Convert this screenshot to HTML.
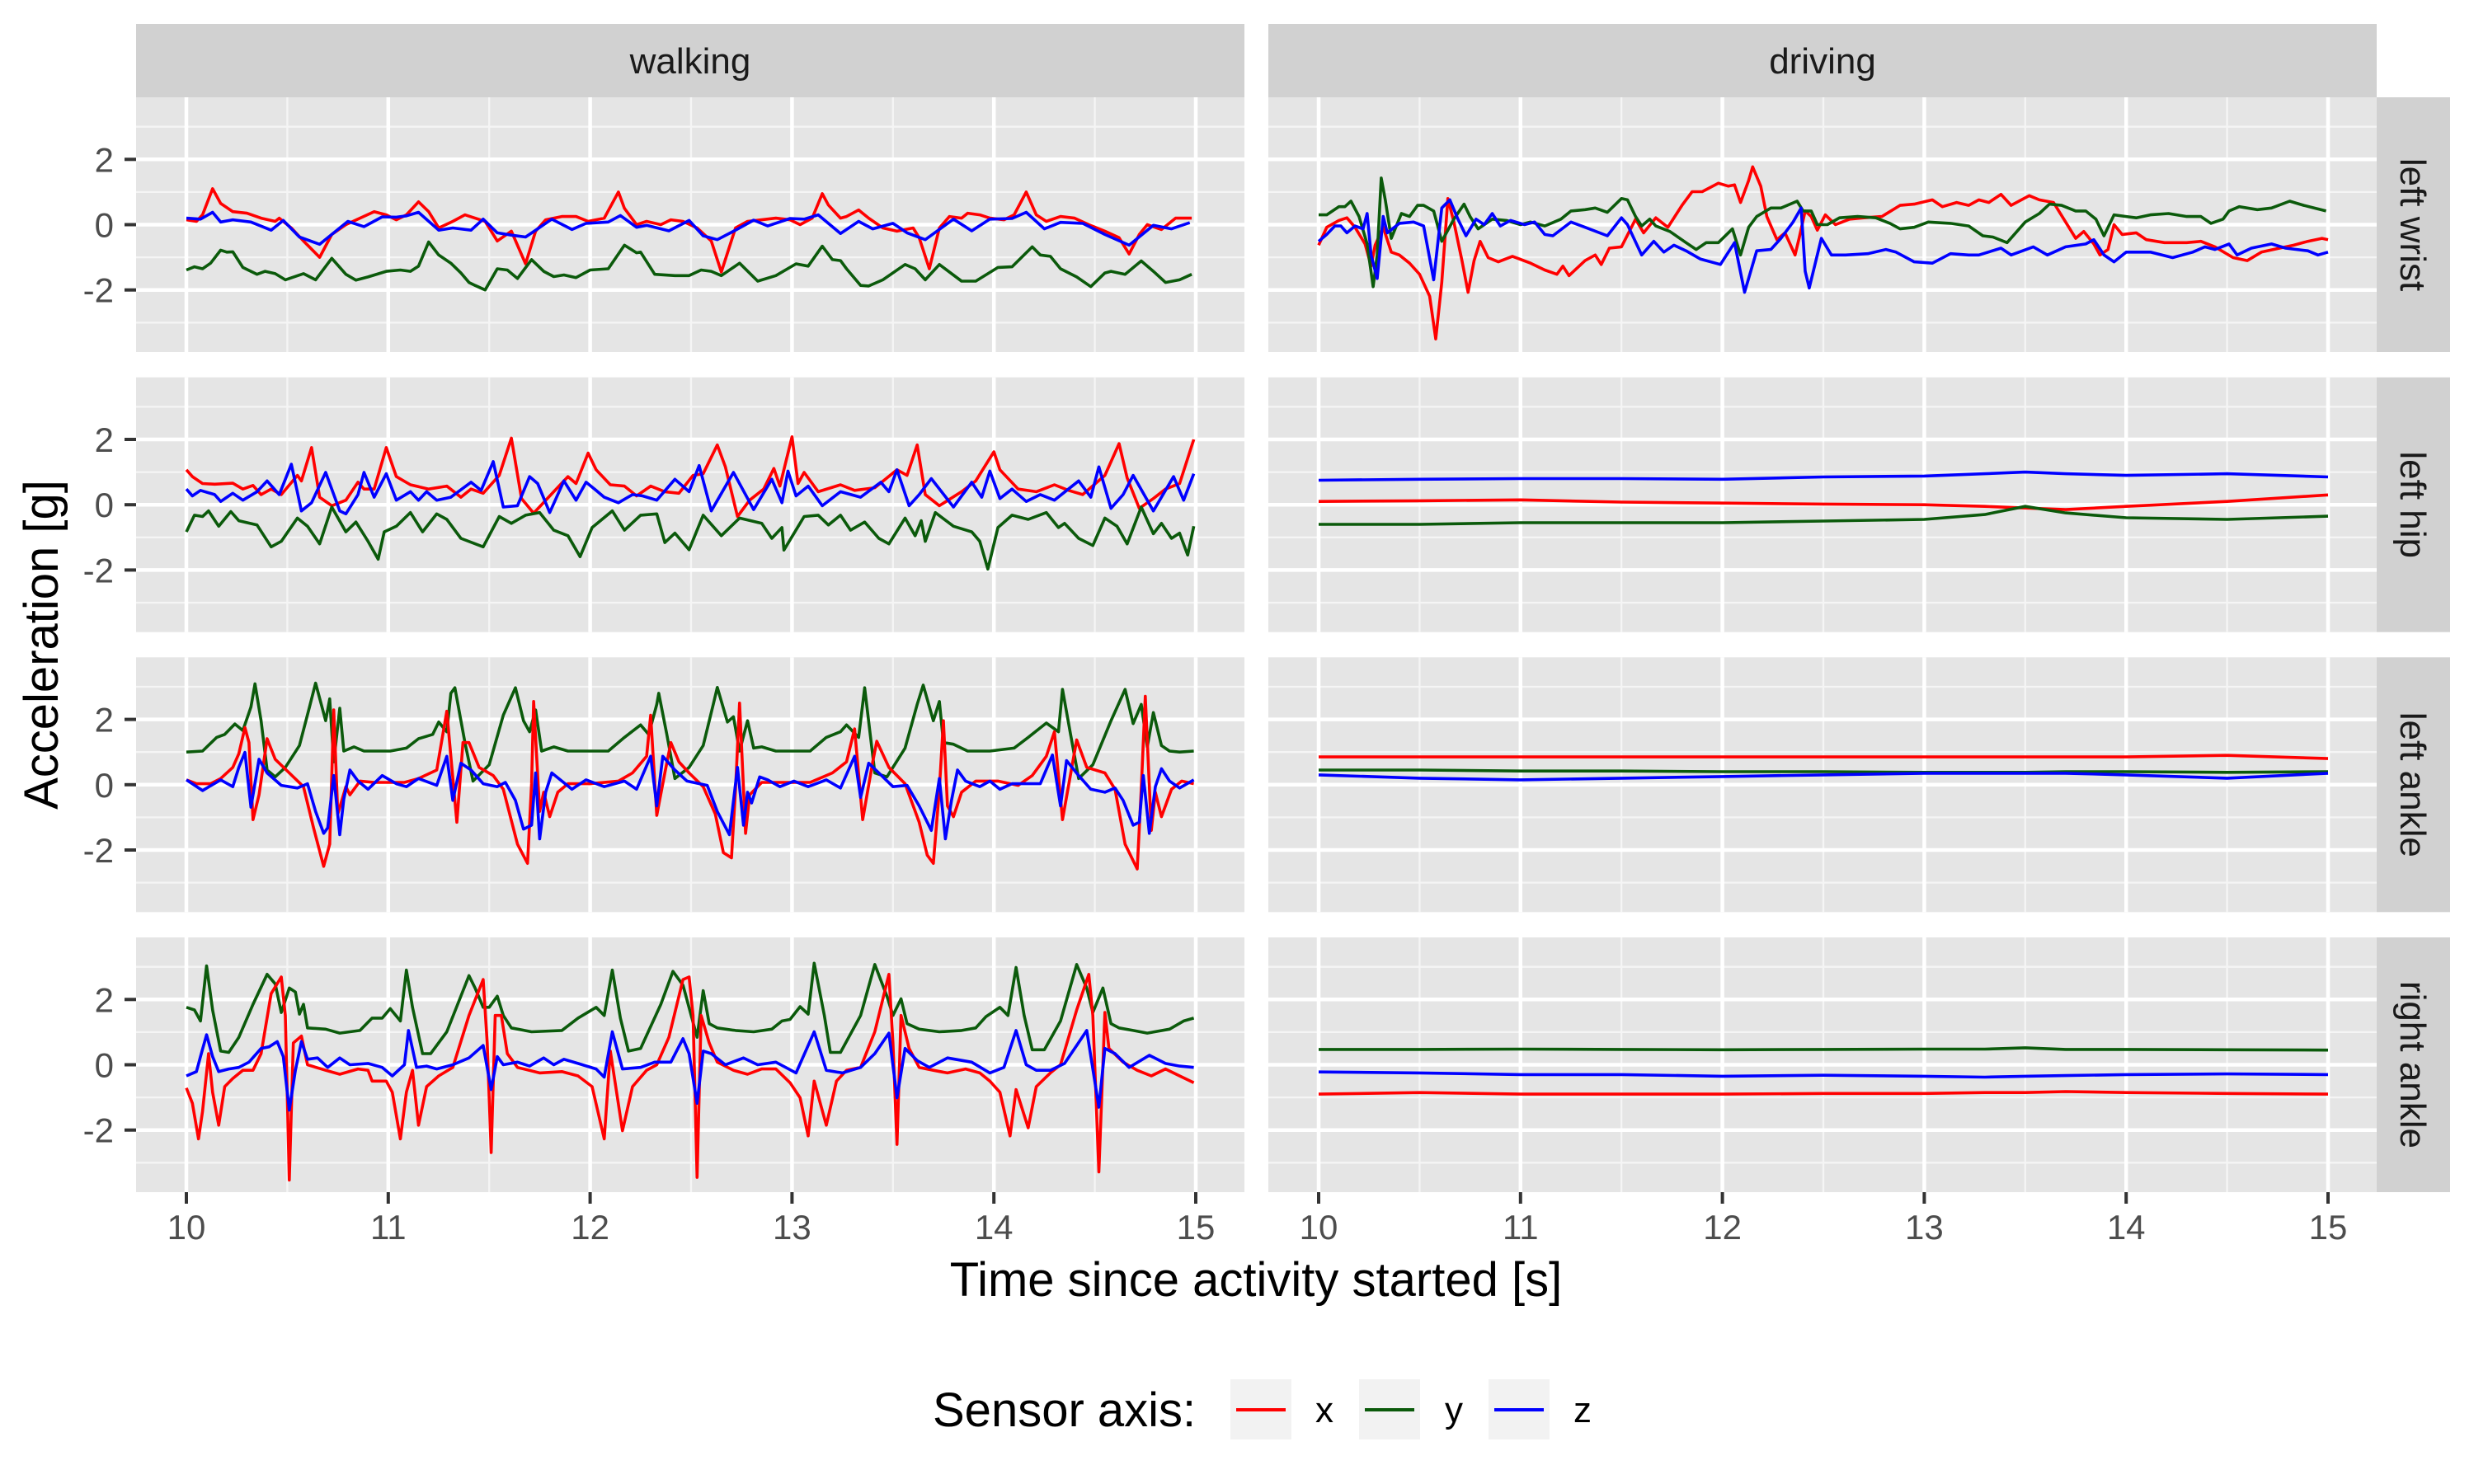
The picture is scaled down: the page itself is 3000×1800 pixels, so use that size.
<!DOCTYPE html>
<html><head><meta charset="utf-8"><style>
html,body{margin:0;padding:0;background:#fff;}
svg{display:block;font-family:"Liberation Sans",Arial,sans-serif;}
</style></head><body>
<svg id="chart" width="3000" height="1800" viewBox="0 0 3000 1800" xmlns="http://www.w3.org/2000/svg">
<g id="panels"></g>
<g id="lines"></g>
<g id="axes"></g>
<text x="1523" y="1572" font-size="58" text-anchor="middle" fill="#000">Time since activity started [s]</text>
<text x="0" y="0" font-size="58" text-anchor="middle" fill="#000" transform="translate(70,782) rotate(-90)">Acceleration [g]</text>
<g>
<text x="1131" y="1730" font-size="58" fill="#000">Sensor axis:</text>
<rect x="1492" y="1673" width="74" height="73" fill="#f2f2f2"/>
<line x1="1499" y1="1710" x2="1559" y2="1710" stroke="#ff0000" stroke-width="4"/>
<text x="1595" y="1725" font-size="44" fill="#000">x</text>
<rect x="1648" y="1673" width="74" height="73" fill="#f2f2f2"/>
<line x1="1655" y1="1710" x2="1715" y2="1710" stroke="#0b5a0b" stroke-width="4"/>
<text x="1752" y="1725" font-size="44" fill="#000">y</text>
<rect x="1805" y="1673" width="74" height="73" fill="#f2f2f2"/>
<line x1="1812" y1="1710" x2="1872" y2="1710" stroke="#0000ff" stroke-width="4"/>
<text x="1908" y="1725" font-size="44" fill="#000">z</text>
</g>
</svg>
<script>
// ---- data ----
const xTicks = [10, 11, 12, 13, 14, 15];
const yTicks = [-2, 0, 2];
const activities = ["walking", "driving"];
const positions = ["left wrist", "left hip", "left ankle", "right ankle"];

// walking, left wrist
const wwXT = [10.00,10.05,10.08,10.13,10.17,10.23,10.30,10.37,10.44,10.46,10.52,10.58,10.66,10.72,10.79,10.86,10.93,10.99,11.04,11.09,11.15,11.20,11.25,11.32,11.38,11.43,11.48,11.54,11.61,11.68,11.73,11.78,11.86,11.93,11.99,12.07,12.14,12.17,12.23,12.28,12.35,12.40,12.46,12.53,12.60,12.65,12.72,12.78,12.85,12.92,12.99,13.04,13.10,13.15,13.18,13.24,13.27,13.33,13.38,13.45,13.52,13.60,13.63,13.68,13.73,13.78,13.84,13.87,13.93,13.98,14.05,14.10,14.16,14.21,14.26,14.33,14.40,14.47,14.55,14.62,14.67,14.72,14.76,14.83,14.90,14.98];
const wwXV = [0.15,0.1,0.3,1.1,0.65,0.4,0.35,0.2,0.1,0.2,-0.1,-0.5,-1.0,-0.3,0.0,0.2,0.4,0.3,0.15,0.3,0.7,0.4,-0.1,0.1,0.3,0.2,0.1,-0.5,-0.2,-1.2,-0.2,0.15,0.25,0.25,0.1,0.2,1.0,0.5,0.0,0.1,0.0,0.15,0.1,-0.1,-0.5,-1.45,-0.1,0.1,0.15,0.2,0.15,0.0,0.2,0.95,0.6,0.2,0.25,0.45,0.2,-0.1,-0.2,-0.1,-0.4,-1.35,-0.1,0.25,0.2,0.35,0.3,0.2,0.15,0.3,1.0,0.3,0.1,0.25,0.2,0.0,-0.2,-0.4,-0.9,-0.3,0.0,-0.15,0.2,0.2];
const wwZT = [10.00,10.07,10.13,10.17,10.23,10.32,10.42,10.48,10.56,10.66,10.74,10.80,10.88,10.97,11.04,11.09,11.15,11.25,11.32,11.41,11.47,11.54,11.61,11.68,11.73,11.81,11.91,11.98,12.09,12.15,12.23,12.28,12.39,12.49,12.56,12.63,12.72,12.81,12.88,12.99,13.06,13.13,13.24,13.33,13.40,13.50,13.57,13.66,13.80,13.89,13.98,14.09,14.16,14.25,14.33,14.44,14.55,14.67,14.79,14.88,14.97];
const wwZV = [0.2,0.17,0.38,0.08,0.15,0.08,-0.17,0.13,-0.38,-0.6,-0.2,0.1,-0.06,0.24,0.23,0.27,0.38,-0.17,-0.1,-0.17,0.17,-0.25,-0.32,-0.38,-0.17,0.17,-0.15,0.04,0.08,0.28,-0.08,-0.02,-0.19,0.13,-0.34,-0.46,-0.17,0.14,-0.04,0.19,0.17,0.3,-0.27,0.1,-0.13,0.04,-0.25,-0.46,0.17,-0.19,0.17,0.19,0.38,-0.13,0.07,0.04,-0.3,-0.63,-0.02,-0.13,0.06];
const wwYT = [10.00,10.04,10.08,10.12,10.17,10.20,10.23,10.28,10.35,10.39,10.44,10.49,10.58,10.64,10.72,10.79,10.84,10.90,10.99,11.06,11.11,11.15,11.20,11.25,11.31,11.36,11.40,11.43,11.48,11.54,11.59,11.64,11.71,11.77,11.82,11.87,11.93,12.00,12.09,12.17,12.23,12.25,12.32,12.42,12.49,12.55,12.60,12.65,12.74,12.83,12.92,13.02,13.08,13.15,13.20,13.24,13.27,13.34,13.38,13.45,13.56,13.61,13.66,13.73,13.84,13.91,14.02,14.09,14.19,14.23,14.28,14.33,14.41,14.48,14.55,14.58,14.65,14.73,14.79,14.85,14.92,14.98];
const wwYV = [-1.39,-1.29,-1.35,-1.18,-0.78,-0.84,-0.83,-1.31,-1.52,-1.43,-1.5,-1.69,-1.5,-1.69,-1.03,-1.52,-1.7,-1.6,-1.43,-1.39,-1.43,-1.27,-0.53,-0.93,-1.18,-1.48,-1.77,-1.86,-2.0,-1.35,-1.39,-1.65,-1.07,-1.43,-1.59,-1.54,-1.62,-1.39,-1.35,-0.63,-0.86,-0.84,-1.52,-1.56,-1.56,-1.39,-1.43,-1.56,-1.18,-1.73,-1.56,-1.2,-1.27,-0.66,-1.07,-1.1,-1.35,-1.86,-1.88,-1.69,-1.22,-1.35,-1.69,-1.22,-1.73,-1.73,-1.31,-1.29,-0.68,-0.93,-0.97,-1.35,-1.6,-1.9,-1.48,-1.43,-1.52,-1.11,-1.43,-1.77,-1.69,-1.52];

// walking, left hip
const whXT = [10.00,10.03,10.08,10.14,10.23,10.28,10.33,10.37,10.42,10.47,10.55,10.57,10.62,10.66,10.72,10.79,10.85,10.88,10.93,10.99,11.04,11.11,11.20,11.29,11.36,11.41,11.47,11.55,11.61,11.66,11.72,11.82,11.89,11.93,11.99,12.03,12.10,12.17,12.23,12.30,12.37,12.44,12.51,12.56,12.63,12.67,12.73,12.79,12.86,12.91,12.94,13.00,13.03,13.06,13.13,13.24,13.31,13.41,13.52,13.57,13.62,13.66,13.73,13.84,13.91,14.00,14.03,14.12,14.21,14.30,14.37,14.44,14.55,14.62,14.66,14.72,14.79,14.85,14.92,14.99];
const whXV = [1.07,0.86,0.65,0.63,0.66,0.48,0.59,0.31,0.48,0.31,0.9,0.73,1.75,0.23,-0.03,0.14,0.69,0.48,0.48,1.75,0.86,0.61,0.48,0.57,0.23,0.48,0.35,0.9,2.04,0.19,-0.26,0.4,0.86,0.65,1.58,1.07,0.61,0.57,0.27,0.57,0.4,0.35,0.9,0.95,1.83,1.16,-0.36,0.14,0.48,1.11,0.57,2.08,0.65,0.99,0.4,0.61,0.44,0.52,1.07,0.9,1.83,0.31,-0.03,0.4,0.73,1.62,1.07,0.48,0.4,0.61,0.44,0.31,0.9,1.87,0.82,-0.11,0.19,0.48,0.65,2.0];
const whZT = [10.00,10.03,10.07,10.14,10.17,10.23,10.28,10.35,10.40,10.46,10.52,10.57,10.62,10.69,10.76,10.79,10.85,10.88,10.93,10.99,11.04,11.11,11.15,11.19,11.24,11.31,11.41,11.46,11.52,11.57,11.64,11.70,11.74,11.80,11.87,11.93,11.98,12.03,12.07,12.14,12.21,12.26,12.33,12.42,12.49,12.54,12.60,12.71,12.81,12.90,12.95,12.98,13.02,13.08,13.15,13.24,13.34,13.44,13.48,13.52,13.58,13.63,13.69,13.80,13.89,13.94,13.98,14.03,14.09,14.16,14.23,14.30,14.42,14.48,14.52,14.58,14.64,14.69,14.79,14.89,14.94,14.99];
const whZV = [0.48,0.27,0.44,0.31,0.1,0.35,0.14,0.4,0.73,0.31,1.24,-0.19,0.06,0.99,-0.19,-0.28,0.31,0.99,0.23,0.95,0.14,0.4,0.14,0.4,0.14,0.23,0.69,0.44,1.32,-0.07,-0.03,0.86,0.65,-0.24,0.73,0.14,0.69,0.44,0.23,0.06,0.31,0.27,0.14,0.78,0.4,1.2,-0.19,0.99,-0.15,0.78,0.06,1.03,0.27,0.57,-0.03,0.4,0.23,0.69,0.4,1.07,-0.03,0.31,0.8,-0.07,0.69,0.23,1.03,0.19,0.48,0.1,0.31,0.14,0.73,0.23,1.16,-0.11,0.31,0.9,-0.19,0.86,0.14,0.95];
const whYT = [10.00,10.04,10.08,10.11,10.16,10.22,10.26,10.35,10.42,10.47,10.55,10.60,10.66,10.72,10.79,10.84,10.90,10.95,10.98,11.04,11.11,11.17,11.24,11.29,11.36,11.47,11.55,11.61,11.68,11.75,11.82,11.89,11.95,12.01,12.11,12.17,12.25,12.33,12.37,12.42,12.49,12.56,12.65,12.74,12.85,12.90,12.95,12.96,13.06,13.13,13.18,13.24,13.29,13.36,13.43,13.48,13.56,13.61,13.64,13.66,13.71,13.80,13.89,13.93,13.97,14.02,14.09,14.17,14.26,14.32,14.35,14.42,14.49,14.55,14.61,14.66,14.73,14.79,14.83,14.88,14.92,14.96,14.99];
const whYV = [-0.83,-0.32,-0.36,-0.19,-0.66,-0.21,-0.49,-0.62,-1.29,-1.12,-0.41,-0.66,-1.2,-0.07,-0.83,-0.53,-1.12,-1.67,-0.83,-0.66,-0.24,-0.83,-0.28,-0.45,-1.03,-1.29,-0.36,-0.57,-0.32,-0.24,-0.78,-0.95,-1.59,-0.7,-0.19,-0.78,-0.32,-0.28,-1.16,-0.87,-1.38,-0.32,-0.95,-0.41,-0.57,-1.03,-0.7,-1.39,-0.36,-0.32,-0.62,-0.32,-0.78,-0.53,-1.03,-1.2,-0.41,-0.95,-0.49,-1.12,-0.24,-0.66,-0.83,-1.12,-1.97,-0.7,-0.32,-0.45,-0.24,-0.7,-0.57,-1.03,-1.25,-0.41,-0.66,-1.2,-0.07,-0.89,-0.57,-1.03,-0.87,-1.54,-0.66];

// walking, left ankle
const waXT = [10.00,10.05,10.12,10.17,10.23,10.26,10.29,10.31,10.33,10.36,10.40,10.44,10.51,10.58,10.63,10.68,10.71,10.73,10.75,10.79,10.81,10.86,10.93,11.08,11.15,11.24,11.29,11.31,11.34,11.37,11.40,11.45,11.52,11.57,11.64,11.69,11.71,11.72,11.75,11.77,11.80,11.84,11.89,12.00,12.14,12.21,12.28,12.30,12.33,12.37,12.40,12.44,12.49,12.56,12.62,12.66,12.70,12.72,12.74,12.77,12.79,12.85,12.92,13.09,13.20,13.27,13.31,13.35,13.40,13.42,13.48,13.56,13.63,13.67,13.70,13.73,13.75,13.77,13.80,13.84,13.91,14.02,14.12,14.19,14.26,14.30,14.34,14.41,14.46,14.55,14.60,14.65,14.71,14.73,14.75,14.78,14.80,14.83,14.88,14.93,14.99];
const waXV = [0.15,0.03,0.03,0.19,0.53,0.95,1.75,1.29,-1.07,-0.31,1.41,0.78,0.36,-0.06,-1.32,-2.5,-1.82,2.29,-0.9,-0.06,-0.31,0.11,0.07,0.07,0.19,0.45,2.25,0.87,-1.15,1.29,1.29,0.53,0.28,-0.14,-1.82,-2.41,0.03,2.55,-0.82,-0.23,-0.98,-0.23,0.03,0.03,0.11,0.36,0.87,2.13,-0.94,0.36,1.29,0.7,0.36,-0.06,-0.9,-2.08,-2.24,-0.14,2.5,-1.49,-0.31,0.07,0.07,0.07,0.36,0.7,1.71,-1.07,0.7,1.33,0.53,0.03,-1.15,-2.16,-2.41,-0.14,1.96,-0.65,-0.98,-0.23,0.11,0.11,-0.02,0.28,0.87,1.62,-1.07,1.37,0.53,0.36,-0.14,-1.82,-2.58,-0.14,2.71,-1.4,-0.23,-0.98,-0.14,0.11,0.03];
const waZT = [10.00,10.08,10.17,10.23,10.26,10.29,10.32,10.36,10.40,10.47,10.55,10.60,10.64,10.68,10.70,10.73,10.76,10.78,10.81,10.85,10.90,10.97,11.04,11.09,11.15,11.24,11.29,11.32,11.36,11.41,11.47,11.54,11.58,11.63,11.67,11.71,11.73,11.75,11.78,11.81,11.86,11.91,11.98,12.07,12.17,12.23,12.30,12.33,12.36,12.42,12.48,12.58,12.63,12.69,12.73,12.76,12.78,12.80,12.84,12.88,12.94,13.01,13.08,13.17,13.24,13.31,13.34,13.38,13.43,13.50,13.57,13.63,13.69,13.73,13.76,13.79,13.82,13.86,13.93,13.98,14.03,14.09,14.16,14.23,14.29,14.33,14.36,14.42,14.48,14.55,14.60,14.64,14.69,14.72,14.74,14.77,14.80,14.83,14.87,14.92,14.99];
const waZV = [0.15,-0.18,0.15,-0.06,0.53,0.99,-0.69,0.78,0.36,-0.02,-0.1,0.03,-0.82,-1.49,-1.32,0.28,-1.53,-0.44,0.45,0.11,-0.14,0.28,0.03,-0.06,0.19,-0.02,0.87,-0.48,0.66,0.45,0.03,-0.06,0.07,-0.48,-1.36,-1.24,0.36,-1.66,-0.23,0.36,0.11,-0.14,0.15,-0.06,0.11,-0.14,0.87,-0.65,0.87,0.45,0.11,-0.02,-0.82,-1.53,0.53,-1.24,-0.23,-0.56,0.24,0.15,-0.06,0.11,-0.06,0.15,-0.1,0.87,-0.39,0.66,0.36,-0.06,-0.02,-0.65,-1.4,0.19,-1.66,-0.48,0.45,0.11,-0.06,0.11,-0.14,0.03,0.03,0.03,0.91,-0.65,0.74,0.28,-0.14,-0.23,-0.1,-0.48,-1.24,-1.15,0.28,-1.49,-0.06,0.49,0.11,-0.1,0.15];
const waYT = [10.00,10.08,10.15,10.19,10.24,10.28,10.32,10.34,10.37,10.40,10.44,10.49,10.56,10.61,10.64,10.69,10.71,10.73,10.76,10.78,10.83,10.88,11.01,11.09,11.15,11.22,11.25,11.29,11.31,11.33,11.38,11.42,11.50,11.57,11.63,11.67,11.70,11.73,11.76,11.82,11.89,12.09,12.17,12.25,12.29,12.33,12.34,12.38,12.42,12.49,12.56,12.61,12.63,12.68,12.71,12.74,12.78,12.81,12.85,12.92,13.09,13.17,13.24,13.27,13.33,13.36,13.41,13.47,13.56,13.62,13.65,13.70,13.73,13.75,13.80,13.87,13.98,14.10,14.17,14.26,14.32,14.34,14.38,14.42,14.49,14.58,14.65,14.69,14.73,14.76,14.79,14.83,14.87,14.92,14.99];
const waYV = [1.0,1.03,1.45,1.54,1.86,1.66,2.38,3.09,1.96,0.45,0.24,0.53,1.2,2.38,3.11,1.96,2.63,0.7,2.34,1.03,1.16,1.03,1.03,1.12,1.41,1.54,1.92,1.62,2.8,2.97,1.29,0.11,0.61,2.13,2.97,1.96,1.62,2.29,1.03,1.16,1.03,1.03,1.45,1.83,1.54,2.46,2.8,1.54,0.19,0.53,1.2,2.46,2.98,1.92,2.08,1.03,1.96,1.12,1.16,1.03,1.03,1.45,1.62,1.83,1.45,2.97,0.36,0.24,1.12,2.46,3.05,1.96,2.55,1.29,1.24,1.03,1.03,1.12,1.45,1.89,1.62,2.92,1.54,0.19,0.61,1.96,2.92,1.87,2.46,1.16,2.21,1.2,1.03,1.0,1.03];

// walking, right ankle
const wrXT = [10.00,10.03,10.06,10.08,10.11,10.13,10.16,10.19,10.23,10.28,10.33,10.37,10.42,10.47,10.49,10.51,10.53,10.57,10.60,10.69,10.76,10.85,10.90,10.92,10.99,11.02,11.06,11.09,11.12,11.15,11.19,11.25,11.32,11.40,11.47,11.49,11.51,11.53,11.56,11.59,11.64,11.75,11.86,11.94,12.01,12.07,12.10,12.16,12.21,12.28,12.33,12.39,12.46,12.49,12.51,12.53,12.55,12.59,12.63,12.71,12.78,12.85,12.92,12.99,13.04,13.08,13.11,13.17,13.22,13.27,13.34,13.41,13.48,13.50,13.52,13.54,13.58,13.63,13.70,13.77,13.86,13.93,13.98,14.03,14.08,14.11,14.17,14.21,14.28,14.33,14.41,14.47,14.49,14.52,14.55,14.57,14.64,14.71,14.78,14.85,14.92,14.99];
const wrXV = [-0.71,-1.18,-2.27,-1.43,0.34,-0.84,-1.85,-0.67,-0.42,-0.17,-0.17,0.34,2.18,2.69,1.51,-3.53,0.67,0.88,0.0,-0.17,-0.29,-0.13,-0.17,-0.5,-0.5,-0.84,-2.27,-0.84,-0.17,-1.85,-0.67,-0.34,-0.08,1.51,2.61,0.67,-2.69,1.51,1.51,0.34,-0.08,-0.25,-0.21,-0.34,-0.67,-2.27,0.42,-2.02,-0.67,-0.17,0.0,0.84,2.61,2.69,1.51,-3.45,1.51,0.67,0.08,-0.17,-0.29,-0.13,-0.13,-0.55,-1.01,-2.18,-0.5,-1.85,-0.5,-0.17,-0.08,1.01,2.77,0.67,-2.44,1.51,0.5,-0.08,-0.17,-0.25,-0.13,-0.25,-0.5,-0.84,-2.18,-0.76,-1.93,-0.67,-0.25,0.0,1.68,2.77,1.51,-3.28,1.6,0.5,0.08,-0.17,-0.34,-0.13,-0.34,-0.55];
const wrZT = [10.00,10.05,10.07,10.10,10.13,10.16,10.21,10.26,10.31,10.37,10.41,10.45,10.48,10.51,10.54,10.57,10.60,10.65,10.70,10.76,10.81,10.90,10.97,11.02,11.08,11.10,11.14,11.19,11.24,11.32,11.40,11.47,11.51,11.54,11.57,11.64,11.70,11.77,11.82,11.87,11.94,12.03,12.07,12.11,12.16,12.25,12.32,12.40,12.46,12.49,12.53,12.56,12.60,12.67,12.76,12.83,12.92,13.02,13.11,13.17,13.25,13.34,13.41,13.48,13.52,13.56,13.62,13.68,13.77,13.89,13.98,14.05,14.11,14.16,14.21,14.28,14.35,14.41,14.46,14.52,14.55,14.60,14.67,14.77,14.85,14.92,14.99];
const wrZV = [-0.34,-0.21,0.25,0.92,0.25,-0.21,-0.13,-0.08,0.08,0.5,0.55,0.71,0.25,-1.39,-0.17,0.71,0.17,0.21,-0.08,0.21,0.0,0.04,-0.08,-0.34,0.0,1.05,-0.08,-0.04,-0.13,0.0,0.21,0.59,-0.76,0.25,0.0,0.08,-0.04,0.21,0.0,0.17,0.04,-0.13,-0.38,1.01,-0.13,-0.08,0.08,0.08,0.8,0.34,-1.18,0.42,0.34,0.0,0.21,0.0,0.08,-0.25,1.01,-0.17,-0.25,-0.08,0.34,0.97,-1.01,0.5,0.13,-0.08,0.21,0.08,-0.25,-0.08,1.05,0.0,-0.17,-0.17,0.04,0.59,1.05,-1.3,0.5,0.34,-0.08,0.29,0.04,-0.04,-0.08];
const wrYT = [10.00,10.04,10.07,10.10,10.13,10.17,10.21,10.26,10.33,10.40,10.44,10.47,10.51,10.54,10.56,10.58,10.60,10.69,10.76,10.86,10.92,10.97,11.01,11.06,11.09,11.12,11.17,11.21,11.29,11.40,11.43,11.47,11.50,11.54,11.57,11.61,11.71,11.86,11.94,12.03,12.07,12.11,12.15,12.19,12.25,12.35,12.41,12.46,12.53,12.56,12.59,12.63,12.72,12.81,12.90,12.95,12.99,13.04,13.08,13.11,13.16,13.19,13.24,13.34,13.41,13.47,13.50,13.54,13.57,13.63,13.73,13.84,13.91,13.96,14.03,14.07,14.11,14.15,14.19,14.25,14.33,14.41,14.46,14.49,14.54,14.58,14.62,14.69,14.76,14.87,14.94,14.99];
const wrYV = [1.76,1.68,1.34,3.03,1.68,0.42,0.38,0.84,1.85,2.77,2.48,1.6,2.35,2.23,1.55,1.85,1.13,1.09,0.97,1.05,1.43,1.43,1.72,1.34,2.9,1.76,0.34,0.34,1.01,2.73,2.35,1.76,1.76,2.1,1.51,1.13,1.01,1.05,1.43,1.76,1.51,2.9,1.43,0.42,0.5,1.85,2.86,2.44,0.84,2.27,1.26,1.13,1.05,1.01,1.09,1.34,1.39,1.78,1.55,3.11,1.51,0.38,0.38,1.51,3.07,2.1,1.51,2.02,1.26,1.09,1.01,1.05,1.13,1.47,1.76,1.51,2.98,1.51,0.46,0.46,1.34,3.07,2.35,1.6,2.35,1.26,1.13,1.05,0.97,1.09,1.34,1.43];

// driving, left wrist
const dwXT = [10.00,10.04,10.10,10.14,10.18,10.23,10.26,10.28,10.32,10.36,10.40,10.45,10.50,10.55,10.58,10.61,10.64,10.67,10.71,10.74,10.77,10.80,10.84,10.89,10.96,11.05,11.12,11.18,11.21,11.24,11.32,11.37,11.40,11.44,11.50,11.57,11.61,11.67,11.73,11.80,11.85,11.90,11.98,12.03,12.06,12.09,12.13,12.15,12.19,12.22,12.27,12.31,12.36,12.38,12.41,12.44,12.47,12.51,12.56,12.63,12.70,12.79,12.88,12.95,13.04,13.09,13.16,13.22,13.27,13.32,13.38,13.43,13.52,13.57,13.64,13.70,13.75,13.79,13.84,13.87,13.91,13.94,13.98,14.05,14.10,14.19,14.30,14.37,14.44,14.53,14.60,14.67,14.76,14.83,14.90,14.97,15.00];
const dwXV = [-0.63,-0.08,0.13,0.21,-0.08,-0.59,-1.27,-0.63,-0.08,-0.84,-0.93,-1.18,-1.52,-2.19,-3.5,-1.77,0.8,0.08,-1.1,-2.07,-1.1,-0.51,-1.01,-1.14,-0.97,-1.18,-1.39,-1.52,-1.27,-1.56,-1.1,-0.93,-1.22,-0.72,-0.68,0.17,-0.25,0.21,-0.08,0.59,1.01,1.01,1.27,1.18,1.22,0.68,1.35,1.77,1.18,0.25,-0.46,-0.25,-0.93,-0.42,0.42,0.25,-0.17,0.3,0.0,0.17,0.21,0.25,0.59,0.63,0.76,0.55,0.68,0.59,0.76,0.68,0.93,0.59,0.89,0.76,0.68,0.08,-0.42,-0.21,-0.59,-0.93,-0.76,0.0,-0.3,-0.25,-0.46,-0.55,-0.55,-0.51,-0.68,-1.01,-1.1,-0.84,-0.72,-0.63,-0.51,-0.42,-0.46];
const dwZT = [10.00,10.04,10.08,10.11,10.14,10.18,10.22,10.24,10.26,10.29,10.32,10.34,10.40,10.47,10.52,10.57,10.61,10.65,10.69,10.73,10.78,10.82,10.86,10.90,10.95,11.02,11.07,11.12,11.16,11.25,11.32,11.43,11.50,11.53,11.60,11.66,11.71,11.76,11.82,11.89,11.99,12.06,12.11,12.17,12.24,12.29,12.35,12.39,12.41,12.43,12.49,12.54,12.61,12.72,12.81,12.86,12.95,13.04,13.13,13.22,13.27,13.38,13.43,13.54,13.61,13.70,13.80,13.84,13.89,13.94,14.00,14.12,14.23,14.33,14.39,14.44,14.51,14.55,14.62,14.72,14.79,14.90,14.95,15.00];
const dwZV = [-0.51,-0.3,-0.04,-0.04,-0.25,-0.04,-0.13,0.34,-0.93,-1.65,0.25,-0.25,0.04,0.08,-0.04,-1.69,0.51,0.76,0.17,-0.34,0.17,0.0,0.34,-0.04,0.13,0.0,0.08,-0.3,-0.34,0.08,-0.08,-0.34,0.21,0.0,-0.93,-0.51,-0.84,-0.63,-0.8,-1.05,-1.22,-0.55,-2.07,-0.8,-0.76,-0.42,0.08,0.51,-1.43,-1.94,-0.42,-0.93,-0.93,-0.89,-0.76,-0.84,-1.14,-1.18,-0.89,-0.93,-0.93,-0.72,-0.93,-0.68,-0.93,-0.68,-0.59,-0.46,-0.93,-1.14,-0.84,-0.84,-1.01,-0.84,-0.68,-0.76,-0.59,-0.93,-0.72,-0.59,-0.72,-0.8,-0.93,-0.84];
const dwYT = [10.00,10.04,10.10,10.13,10.16,10.20,10.24,10.27,10.29,10.31,10.33,10.36,10.41,10.45,10.49,10.52,10.57,10.61,10.67,10.72,10.75,10.79,10.86,10.93,11.00,11.05,11.12,11.20,11.25,11.32,11.37,11.43,11.50,11.53,11.57,11.60,11.64,11.67,11.74,11.82,11.87,11.92,11.98,12.05,12.09,12.13,12.17,12.24,12.29,12.37,12.40,12.44,12.47,12.52,12.58,12.67,12.76,12.83,12.88,12.95,13.02,13.13,13.22,13.29,13.34,13.41,13.50,13.57,13.62,13.68,13.75,13.80,13.85,13.89,13.94,14.00,14.05,14.12,14.21,14.30,14.37,14.42,14.48,14.51,14.56,14.65,14.72,14.81,14.88,14.99];
const dwYV = [0.3,0.3,0.55,0.55,0.72,0.25,-0.59,-1.9,-0.93,1.43,0.76,-0.42,0.34,0.25,0.59,0.59,0.42,-0.51,0.17,0.63,0.25,-0.13,0.17,0.13,0.0,0.08,-0.04,0.17,0.42,0.46,0.51,0.38,0.8,0.76,0.25,-0.04,0.17,-0.04,-0.21,-0.55,-0.76,-0.55,-0.55,-0.13,-0.93,-0.08,0.25,0.51,0.51,0.72,0.42,0.42,0.0,0.0,0.21,0.25,0.21,0.04,-0.13,-0.08,0.08,0.04,-0.04,-0.34,-0.38,-0.55,0.08,0.34,0.63,0.59,0.42,0.42,0.17,-0.34,0.3,0.25,0.21,0.3,0.34,0.25,0.25,0.04,0.17,0.42,0.55,0.46,0.51,0.72,0.59,0.42];

// driving, flat sensors
const dT = [10.0,10.5,11.0,11.5,12.0,12.5,13.0,13.3,13.5,13.7,14.0,14.5,15.0];
const dhXV = [0.1,0.12,0.15,0.08,0.05,0.02,0.0,-0.05,-0.1,-0.15,-0.05,0.1,0.3];
const dhYV = [-0.6,-0.6,-0.55,-0.55,-0.55,-0.5,-0.45,-0.3,-0.05,-0.25,-0.4,-0.45,-0.35];
const dhZV = [0.75,0.78,0.8,0.8,0.78,0.85,0.88,0.95,1.0,0.95,0.9,0.95,0.85];
const daXV = [0.85,0.85,0.85,0.85,0.85,0.85,0.85,0.85,0.85,0.85,0.85,0.9,0.8];
const daYV = [0.45,0.45,0.42,0.42,0.4,0.4,0.38,0.38,0.38,0.4,0.4,0.38,0.4];
const daZV = [0.3,0.2,0.15,0.2,0.25,0.3,0.35,0.35,0.35,0.35,0.3,0.2,0.35];
const drXV = [-0.9,-0.85,-0.9,-0.9,-0.9,-0.88,-0.88,-0.85,-0.85,-0.82,-0.85,-0.88,-0.9];
const drYV = [0.47,0.47,0.48,0.47,0.46,0.47,0.48,0.48,0.52,0.47,0.47,0.46,0.45];
const drZV = [-0.22,-0.25,-0.3,-0.3,-0.35,-0.32,-0.35,-0.38,-0.35,-0.33,-0.3,-0.28,-0.3];

// ---- layout ----
const NS = "http://www.w3.org/2000/svg";
const colX = [165, 1538], colW = 1344;
const rowY = [118, 457.7, 797.3, 1137], rowH = 309;
const pxPerSec = 244.8, pxPerG = 39.6;
const COLORS = { x: "#ff0000", y: "#0b5a0b", z: "#0000ff" };
function xScale(col, t) { return colX[col] + 61 + (t - 10) * pxPerSec; }
function yScale(row, v) { return rowY[row] + rowH / 2 - v * pxPerG; }
function mk(tag, attrs, parent) {
  const e = document.createElementNS(NS, tag);
  for (const k in attrs) e.setAttribute(k, attrs[k]);
  parent.appendChild(e);
  return e;
}
const gP = document.getElementById("panels");
const gL = document.getElementById("lines");
const gA = document.getElementById("axes");
const defs = mk("defs", {}, document.getElementById("chart"));

for (let c = 0; c < 2; c++) {
  for (let r = 0; r < 4; r++) {
    const bg = mk("rect", { x: colX[c], y: rowY[r], width: colW, height: rowH, fill: "#e5e5e5" }, gP);
    
    
    const cp = mk("clipPath", { id: "clip" + c + r }, defs);
    mk("rect", { x: colX[c], y: rowY[r], width: colW, height: rowH }, cp);
    for (const v of [-3, -1, 1, 3]) {
      const y = yScale(r, v);
      const l = mk("line", { x1: colX[c], x2: colX[c] + colW, y1: y, y2: y, stroke: "#f5f5f5", "stroke-width": 2.3 }, gP);
      
      
    }
    for (let i = 0; i < xTicks.length - 1; i++) {
      const x = xScale(c, xTicks[i] + 0.5);
      const l = mk("line", { x1: x, x2: x, y1: rowY[r], y2: rowY[r] + rowH, stroke: "#f5f5f5", "stroke-width": 2.3 }, gP);
      
      
    }
    for (const v of yTicks) {
      const y = yScale(r, v);
      const l = mk("line", { x1: colX[c], x2: colX[c] + colW, y1: y, y2: y, stroke: "#ffffff", "stroke-width": 4.5 }, gP);
      
      
    }
    for (const t of xTicks) {
      const x = xScale(c, t);
      const l = mk("line", { x1: x, x2: x, y1: rowY[r], y2: rowY[r] + rowH, stroke: "#ffffff", "stroke-width": 4.5 }, gP);
      
      
    }
  }
  const st = mk("rect", { x: colX[c], y: 29, width: colW, height: 89, fill: "#d1d1d1" }, gP);
  
  
  const stt = mk("text", { x: colX[c] + colW / 2, y: 89, "font-size": 44, "text-anchor": "middle", fill: "#1a1a1a" }, gP);
  stt.textContent = activities[c];
  
  
  for (const t of xTicks) {
    const x = xScale(c, t);
    const tk = mk("line", { x1: x, x2: x, y1: 1446, y2: 1460, stroke: "#333333", "stroke-width": 4 }, gA);
    
    
    const tl = mk("text", { x: x, y: 1503, "font-size": 42, "text-anchor": "middle", fill: "#4d4d4d" }, gA);
    tl.textContent = t;
    
    
  }
}
for (let r = 0; r < 4; r++) {
  const rs = mk("rect", { x: 2882, y: rowY[r], width: 89, height: rowH, fill: "#d1d1d1" }, gP);
  
  
  const cy = rowY[r] + rowH / 2;
  const rt = mk("text", { x: 0, y: 0, "font-size": 44, "text-anchor": "middle", fill: "#1a1a1a", transform: "translate(2911," + cy + ") rotate(90)" }, gP);
  rt.textContent = positions[r];
  
  
  for (const v of yTicks) {
    const y = yScale(r, v);
    const tk = mk("line", { x1: 151, x2: 165, y1: y, y2: y, stroke: "#333333", "stroke-width": 4 }, gA);
    
    
    const tl = mk("text", { x: 138, y: y + 15, "font-size": 42, "text-anchor": "end", fill: "#4d4d4d" }, gA);
    tl.textContent = v;
    
    
  }
}

const series = [
  [0, 0, "x", wwXT, wwXV], [0, 0, "y", wwYT, wwYV], [0, 0, "z", wwZT, wwZV],
  [0, 1, "x", whXT, whXV], [0, 1, "y", whYT, whYV], [0, 1, "z", whZT, whZV],
  [0, 2, "y", waYT, waYV], [0, 2, "x", waXT, waXV], [0, 2, "z", waZT, waZV],
  [0, 3, "y", wrYT, wrYV], [0, 3, "x", wrXT, wrXV], [0, 3, "z", wrZT, wrZV],
  [1, 0, "x", dwXT, dwXV], [1, 0, "y", dwYT, dwYV], [1, 0, "z", dwZT, dwZV],
  [1, 1, "x", dT, dhXV], [1, 1, "y", dT, dhYV], [1, 1, "z", dT, dhZV],
  [1, 2, "x", dT, daXV], [1, 2, "y", dT, daYV], [1, 2, "z", dT, daZV],
  [1, 3, "x", dT, drXV], [1, 3, "y", dT, drYV], [1, 3, "z", dT, drZV]
];
for (const [c, r, ax, ts, vs] of series) {
  const n = Math.min(ts.length, vs.length);
  let d = "";
  for (let i = 0; i < n; i++) {
    d += (i ? "L" : "M") + xScale(c, ts[i]).toFixed(1) + "," + yScale(r, vs[i]).toFixed(1);
  }
  const p = mk("path", { d: d, fill: "none", stroke: COLORS[ax], "stroke-width": 3.6, "stroke-linejoin": "round", "clip-path": "url(#clip" + c + r + ")" }, gL);
  
  
}
</script>
</body></html>
